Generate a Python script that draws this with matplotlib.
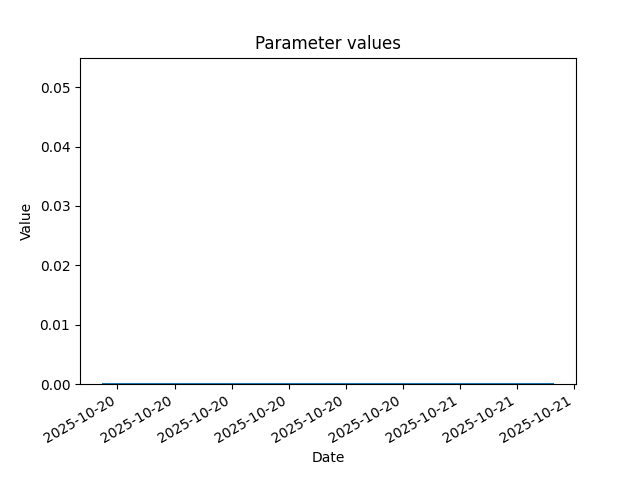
import matplotlib
matplotlib.use("Agg")
import matplotlib.pyplot as plt
import matplotlib.dates as mdates
import pandas as pd

# timestamps of the parameter samples
dates = pd.to_datetime([
    "2025-10-20 05:13", "2025-10-20 06:13", "2025-10-20 07:13", "2025-10-20 08:13",
    "2025-10-20 09:13", "2025-10-20 10:13", "2025-10-20 11:13", "2025-10-20 12:13",
    "2025-10-20 13:13", "2025-10-20 14:13", "2025-10-20 15:13", "2025-10-20 16:13",
    "2025-10-20 17:13", "2025-10-20 18:13", "2025-10-20 19:13", "2025-10-20 20:13",
    "2025-10-20 21:13", "2025-10-20 22:13", "2025-10-20 23:13", "2025-10-21 00:13",
    "2025-10-21 01:13", "2025-10-21 02:13", "2025-10-21 03:13", "2025-10-21 04:13",
    "2025-10-21 04:55",
])
values = [0.0, 0.0, 0.0, 0.0, 0.0, 0.0, 0.0, 0.0, 0.0, 0.0, 0.0, 0.0, 0.0,
          0.0, 0.0, 0.0, 0.0, 0.0, 0.0, 0.0, 0.0, 0.0, 0.0, 0.0, 0.0]

fig, ax = plt.subplots(figsize=(6.4, 4.8), dpi=100)
ax.plot(dates, values)
ax.set_ylim(bottom=0)

ax.xaxis.set_major_locator(mdates.HourLocator(byhour=range(0, 24, 3)))
ax.xaxis.set_major_formatter(mdates.DateFormatter("%Y-%m-%d"))
fig.autofmt_xdate()

ax.set_title("Parameter values")
ax.set_xlabel("Date")
ax.set_ylabel("Value")

plt.savefig("out.png")
